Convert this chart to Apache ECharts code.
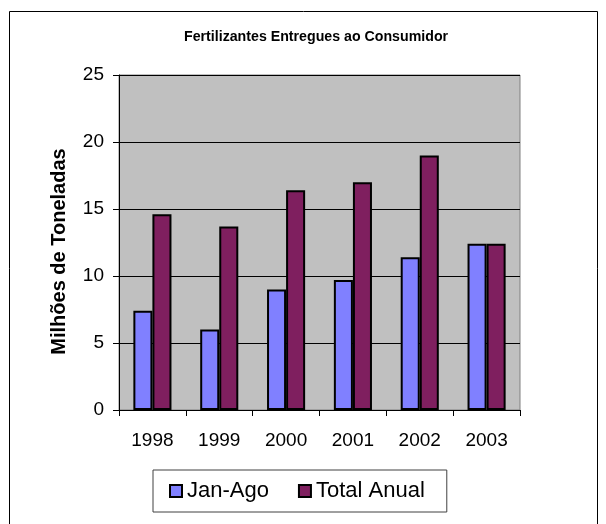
<!DOCTYPE html>
<html>
<head>
<meta charset="utf-8">
<script src="https://cdn.jsdelivr.net/npm/echarts@6/dist/echarts.min.js"></script>
<style>
  html, body { margin: 0; padding: 0; background: #fff; }
  #chart { width: 606px; height: 524px; }
</style>
</head>
<body>
<div id="chart"></div>
<script>
// dados
var anos = ['1998', '1999', '2000', '2001', '2002', '2003'];
var janAgo = [7.4, 6.0, 9.0, 9.7, 11.4, 12.4];
var totalAnual = [14.6, 13.7, 16.4, 17.0, 19.0, 12.4];
var yTicks = [0, 5, 10, 15, 20, 25];

var chart = echarts.init(document.getElementById('chart'));
var fonte = 'Arial, "Liberation Sans", sans-serif';

var option = {
  backgroundColor: '#fff',
  animation: false,
  textStyle: { fontFamily: fonte },
  graphic: [{
    type: 'rect',
    shape: { x: 9.5, y: 11.5, width: 588, height: 530 },
    style: { fill: 'none', stroke: '#000', lineWidth: 1 },
    silent: true
  }],
  title: {
    text: 'Fertilizantes Entregues ao Consumidor',
    left: 179,
    top: 25,
    textStyle: { fontSize: 14.2, fontWeight: 'bold', color: '#000', fontFamily: fonte }
  },
  legend: {
    data: ['Jan-Ago', 'Total Anual'],
    left: 153,
    top: 470,
    icon: 'rect',
    itemWidth: 12,
    itemHeight: 12,
    itemGap: 29,
    padding: [10, 22, 10, 16],
    borderColor: '#404040',
    borderWidth: 1,
    textStyle: { fontSize: 22, color: '#000', fontFamily: fonte }
  },
  grid: {
    left: 119,
    right: 86,
    top: 75,
    bottom: 114,
    show: true,
    backgroundColor: '#C0C0C0',
    borderColor: '#808080',
    borderWidth: 1
  },
  xAxis: {
    type: 'category',
    data: anos,
    axisLine: { lineStyle: { color: '#000', width: 1 } },
    axisTick: { show: true, length: 6, inside: false, lineStyle: { color: '#000' } },
    axisLabel: { fontSize: 19, color: '#000', margin: 21, fontFamily: fonte },
    splitLine: { show: false }
  },
  yAxis: {
    type: 'value',
    min: yTicks[0],
    max: yTicks[yTicks.length - 1],
    interval: 5,
    name: 'Milhões de Toneladas',
    nameLocation: 'middle',
    nameGap: 50,
    nameRotate: 90,
    nameTextStyle: { fontSize: 20, fontWeight: 'bold', color: '#000', fontFamily: fonte, padding: [0, 0, 0, -18] },
    axisLine: { show: true, lineStyle: { color: '#000', width: 1 } },
    axisTick: { show: true, length: 6, lineStyle: { color: '#000' } },
    axisLabel: { fontSize: 19, color: '#000', margin: 15, fontFamily: fonte },
    splitLine: { show: true, lineStyle: { color: '#000', width: 1 } }
  },
  series: [
    {
      name: 'Jan-Ago',
      type: 'bar',
      data: janAgo,
      barGap: '0%',
      barCategoryGap: '43%',
      itemStyle: { color: '#8080FF', borderColor: '#000', borderWidth: 2 }
    },
    {
      name: 'Total Anual',
      type: 'bar',
      data: totalAnual,
      barGap: '0%',
      barCategoryGap: '43%',
      itemStyle: { color: '#7F1F5F', borderColor: '#000', borderWidth: 2 }
    }
  ]
};

chart.setOption(option);
</script>
</body>
</html>
